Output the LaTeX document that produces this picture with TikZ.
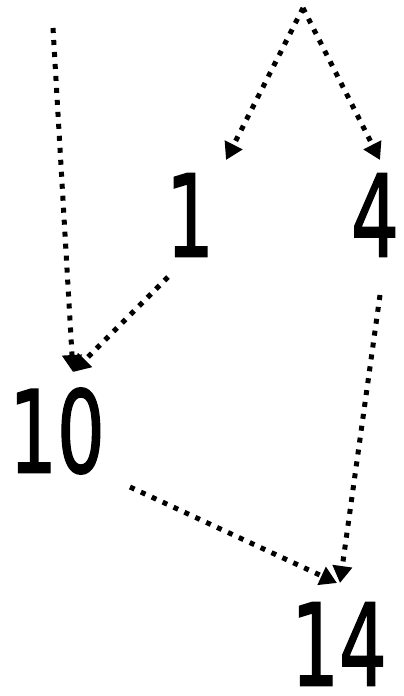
\documentclass[tikz,border=0pt]{standalone}
\usepackage{fontspec}
\usepackage{graphicx}
\setmainfont{DejaVu Sans}
\newfontfamily\numfont[FakeBold=1.6]{DejaVu Sans}
\usetikzlibrary{arrows.meta}
\tikzset{
  num/.style={inner sep=0pt, font=\fontsize{114}{114}\numfont},
  link/.style={line width=5pt, dash pattern=on 5pt off 7pt,
    -{Triangle[length=17pt,width=19pt]}}
}
\newcommand{\narrow}[1]{\scalebox{0.66}[1]{#1}}
\begin{document}
\begin{tikzpicture}[x=1pt,y=-1pt]
\useasboundingbox (0,0) rectangle (404,696);
\node[num] (n1) at (190,215) {\narrow{1}};
\node[num] (n4) at (375,215) {\narrow{4}};
\node[num] (n10) at (57,431) {\narrow{10}};
\node[num] (n14) at (339,644) {\narrow{14}};
\coordinate (topl) at (53,28);
\coordinate (apex) at (303,8);
\draw[link] (topl) -- ([shift={(16,-59)}]n10.center);
\draw[link] ([shift={(-22,62)}]n1.center) -- ([shift={(16,-59)}]n10.center);
\draw[link] (apex) -- ([shift={(36,-55)}]n1.center);
\draw[link] (apex) -- ([shift={(5,-55)}]n4.center);
\draw[link] ([shift={(5,80)}]n4.center) -- ([shift={(1,-61)}]n14.center);
\draw[link] ([shift={(73,56)}]n10.center) -- ([shift={(-2,-61)}]n14.center);
\end{tikzpicture}
\end{document}
